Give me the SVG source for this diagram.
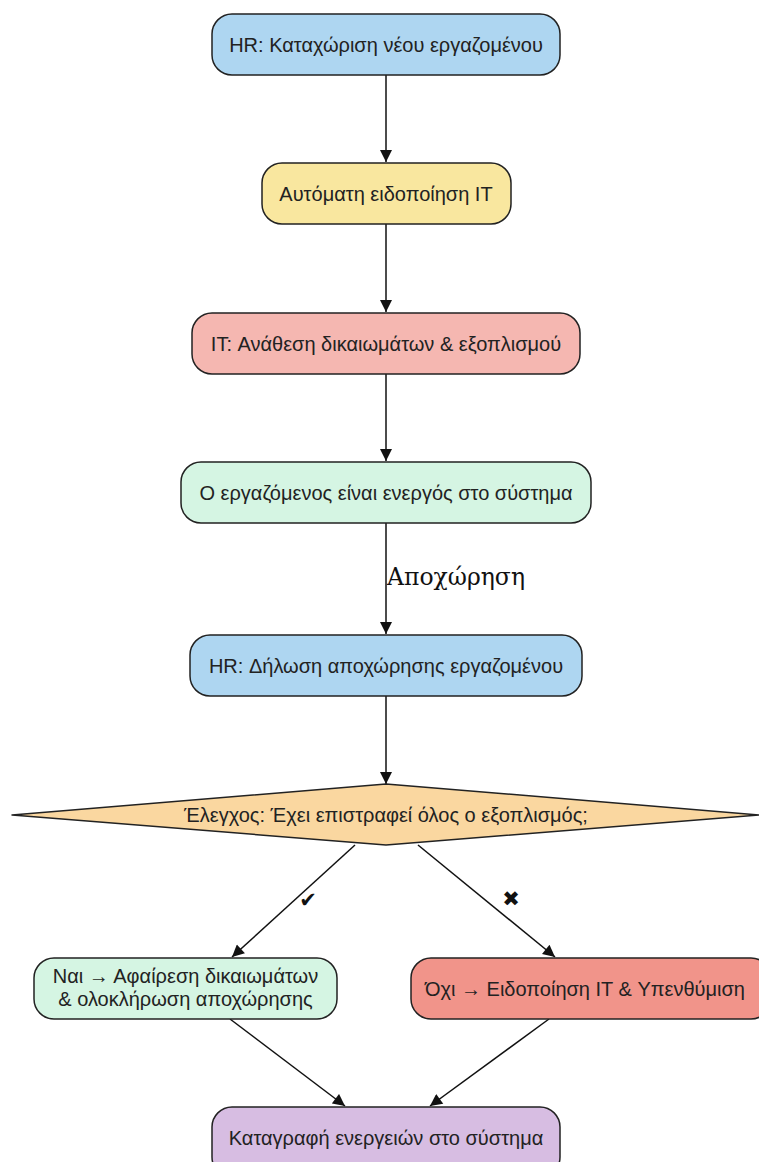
<svg xmlns="http://www.w3.org/2000/svg" width="759" height="1162" viewBox="0 0 759 1162">
  <style>
    .box { stroke: #222; stroke-width: 1.5; }
    .lbl { font-family: "Liberation Sans", Arial, sans-serif; font-size: 20px; fill: #222; text-anchor: middle; dominant-baseline: central; }
    .edge { stroke: #111; stroke-width: 1.5; fill: none; marker-end: url(#arrow); }
    .elbl { font-family: "DejaVu Serif", "Liberation Serif", serif; font-size: 23.5px; fill: #111; }
    .mark { font-family: "DejaVu Sans", sans-serif; font-size: 21px; fill: #111; text-anchor: middle; dominant-baseline: central; }
  </style>
  <defs>
    <marker id="arrow" viewBox="0 0 10 10" refX="10" refY="5" markerWidth="13" markerHeight="12" markerUnits="userSpaceOnUse" orient="auto">
      <path d="M0,0 L10,5 L0,10 z" fill="#111"/>
    </marker>
  </defs>
  <rect width="759" height="1162" fill="#ffffff"/>

  <g id="connectors">
    <line class="edge" x1="386" y1="75" x2="386" y2="162"/>
    <line class="edge" x1="386" y1="224" x2="386" y2="312"/>
    <line class="edge" x1="386" y1="374" x2="386" y2="461"/>
    <line class="edge" x1="386" y1="523" x2="386" y2="634"/>
    <text class="elbl" x="387" y="585">Αποχώρηση</text>
    <line class="edge" x1="386" y1="696" x2="386" y2="784"/>
    <line class="edge" x1="355" y1="845" x2="232" y2="957"/>
    <text class="mark" x="308" y="900">✔</text>
    <line class="edge" x1="418" y1="845" x2="555" y2="957"/>
    <text class="mark" x="511" y="899">✖</text>
    <line class="edge" x1="230" y1="1019" x2="345" y2="1106"/>
    <line class="edge" x1="549" y1="1019" x2="430" y2="1106"/>
  </g>

  <g id="hr-new">
    <rect class="box" x="212" y="14" width="348" height="61" rx="20" fill="#aed6f1"/>
    <text class="lbl" x="386" y="44.5">HR: Καταχώριση νέου εργαζομένου</text>
  </g>
  <g id="auto-notify">
    <rect class="box" x="262" y="163" width="249" height="61" rx="20" fill="#f9e79f"/>
    <text class="lbl" x="386" y="193.5">Αυτόματη ειδοποίηση IT</text>
  </g>
  <g id="it-assign">
    <rect class="box" x="192" y="313" width="388" height="61" rx="20" fill="#f5b7b1"/>
    <text class="lbl" x="386" y="343.5">IT: Ανάθεση δικαιωμάτων &amp; εξοπλισμού</text>
  </g>
  <g id="active">
    <rect class="box" x="181" y="462" width="410" height="61" rx="20" fill="#d5f5e3"/>
    <text class="lbl" x="386" y="492.5">Ο εργαζόμενος είναι ενεργός στο σύστημα</text>
  </g>
  <g id="hr-exit">
    <rect class="box" x="190" y="635" width="392" height="61" rx="20" fill="#aed6f1"/>
    <text class="lbl" x="386" y="665.5">HR: Δήλωση αποχώρησης εργαζομένου</text>
  </g>
  <g id="check">
    <path class="box" d="M386,784 L760,815 L386,845 L12,815 Z" fill="#fad7a0" stroke-linejoin="round"/>
    <text class="lbl" x="386" y="814.5">Έλεγχος: Έχει επιστραφεί όλος ο εξοπλισμός;</text>
  </g>
  <g id="yes">
    <rect class="box" x="34" y="958" width="303" height="61" rx="20" fill="#d5f5e3"/>
    <text class="lbl" x="185.5" y="976">Ναι → Αφαίρεση δικαιωμάτων</text>
    <text class="lbl" x="185.5" y="999">&amp; ολοκλήρωση αποχώρησης</text>
  </g>
  <g id="no">
    <rect class="box" x="411" y="958" width="360" height="61" rx="20" fill="#f1948a"/>
    <text class="lbl" x="585" y="988.5">Όχι → Ειδοποίηση IT &amp; Υπενθύμιση</text>
  </g>
  <g id="log">
    <rect class="box" x="212" y="1107" width="348" height="70" rx="20" fill="#d7bde2"/>
    <text class="lbl" x="386" y="1137.5">Καταγραφή ενεργειών στο σύστημα</text>
  </g>
</svg>
